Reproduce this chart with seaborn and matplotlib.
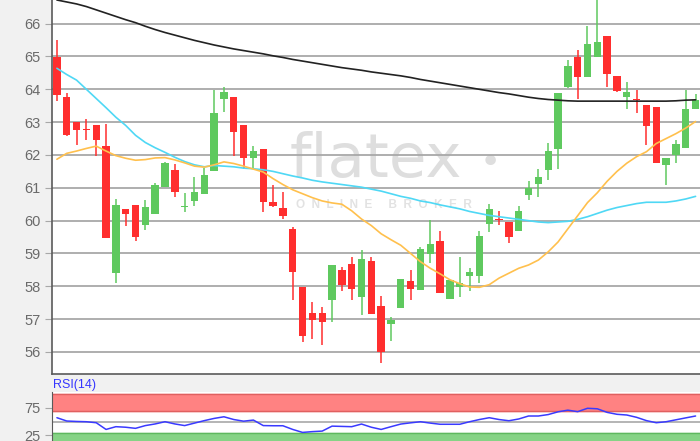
import matplotlib
matplotlib.use("Agg")
import matplotlib.pyplot as plt
import numpy as np
import pandas as pd
import seaborn as sns

# OHLC candles (daily)
opens = [64.97, 63.76, 63.00, 62.80, 62.90, 62.28, 58.42, 60.36, 60.49, 59.88,
         60.20, 61.03, 61.54, 60.42, 60.59, 60.80, 61.50, 63.70, 63.76, 62.90,
         61.91, 62.19, 60.58, 60.38, 59.75, 57.98, 57.19, 57.19, 57.57, 58.50,
         58.69, 57.69, 58.77, 57.39, 56.86, 57.34, 58.15, 57.90, 58.97, 59.37,
         57.62, 57.98, 58.30, 58.30, 59.90, 60.05, 59.95, 59.67, 60.77, 61.13,
         61.54, 62.18, 64.08, 64.97, 64.36, 64.99, 65.62, 64.40, 63.78, 63.70,
         63.53, 63.47, 61.71, 62.01, 62.21, 63.40]
highs = [65.50, 63.88, 63.00, 63.10, 62.90, 62.95, 60.66, 60.36, 60.49, 60.62,
         61.15, 61.78, 61.74, 60.83, 61.33, 61.60, 63.98, 64.08, 63.76, 62.90,
         62.26, 62.19, 61.10, 60.87, 59.80, 57.98, 57.52, 57.37, 58.66, 58.59,
         58.89, 59.12, 58.89, 57.72, 57.07, 58.21, 58.50, 59.20, 60.03, 59.70,
         58.18, 58.89, 58.55, 59.67, 60.51, 60.29, 59.95, 60.46, 61.20, 61.56,
         62.38, 63.88, 64.89, 65.19, 65.92, 66.80, 65.62, 64.40, 64.23, 63.98,
         63.53, 63.47, 61.91, 62.46, 63.98, 63.85]
lows = [63.63, 62.57, 62.30, 62.45, 61.98, 59.48, 58.09, 59.83, 59.37, 59.72,
        60.20, 61.03, 60.72, 60.26, 60.46, 60.80, 61.50, 63.30, 61.98, 61.56,
        61.60, 60.26, 60.41, 60.05, 57.57, 56.30, 56.40, 56.20, 56.90, 57.86,
        57.57, 57.14, 57.17, 55.68, 56.35, 57.34, 57.57, 57.90, 58.70, 57.81,
        57.62, 57.67, 57.85, 58.10, 59.64, 59.86, 59.32, 59.67, 60.62, 60.72,
        61.25, 61.56, 64.03, 63.70, 64.36, 64.99, 64.06, 63.93, 63.39, 63.27,
        62.29, 61.76, 61.10, 61.76, 62.21, 63.40]
closes = [63.83, 62.62, 62.77, 62.77, 62.46, 59.48, 60.49, 60.20, 59.49, 60.41,
          61.09, 61.76, 60.87, 60.45, 60.88, 61.40, 63.29, 63.93, 62.69, 61.91,
          62.13, 60.56, 60.44, 60.14, 58.45, 56.48, 56.98, 56.91, 58.66, 58.05,
          57.93, 58.82, 57.17, 56.00, 56.98, 58.21, 57.93, 59.14, 59.30, 57.81,
          58.18, 58.10, 58.43, 59.54, 60.34, 60.03, 59.50, 60.29, 61.00, 61.32,
          62.11, 63.88, 64.71, 64.36, 65.38, 65.44, 64.46, 63.95, 63.91, 63.66,
          62.89, 61.76, 61.91, 62.34, 63.40, 63.68]

# moving averages
ma_long = [66.72, 66.66, 66.60, 66.52, 66.42, 66.32, 66.22, 66.12, 66.03, 65.92,
           65.82, 65.73, 65.65, 65.57, 65.49, 65.42, 65.35, 65.29, 65.23, 65.18,
           65.13, 65.08, 65.02, 64.97, 64.91, 64.86, 64.81, 64.76, 64.71, 64.66,
           64.62, 64.58, 64.53, 64.49, 64.45, 64.41, 64.36, 64.30, 64.25, 64.20,
           64.15, 64.10, 64.05, 64.00, 63.95, 63.90, 63.86, 63.81, 63.76, 63.72,
           63.69, 63.67, 63.65, 63.64, 63.64, 63.64, 63.64, 63.64, 63.64, 63.64,
           63.64, 63.64, 63.64, 63.65, 63.67, 63.68]
ma_mid = [64.64, 64.45, 64.28, 64.00, 63.72, 63.44, 63.15, 62.90, 62.60, 62.38,
          62.22, 62.08, 61.93, 61.80, 61.70, 61.64, 61.68, 61.66, 61.64, 61.60,
          61.58, 61.55, 61.50, 61.43, 61.36, 61.30, 61.23, 61.18, 61.14, 61.10,
          61.06, 61.02, 60.96, 60.90, 60.82, 60.74, 60.68, 60.60, 60.55, 60.48,
          60.42, 60.36, 60.28, 60.22, 60.16, 60.12, 60.08, 60.04, 60.00, 59.96,
          59.94, 59.96, 59.98, 60.04, 60.12, 60.22, 60.32, 60.40, 60.46, 60.52,
          60.56, 60.56, 60.56, 60.60, 60.66, 60.74]
ma_short = [61.87, 62.05, 62.12, 62.20, 62.27, 62.12, 61.98, 61.90, 61.84, 61.86,
            61.91, 61.92, 61.85, 61.76, 61.66, 61.63, 61.70, 61.79, 61.74, 61.66,
            61.57, 61.48, 61.28, 61.10, 60.94, 60.82, 60.70, 60.60, 60.54, 60.50,
            60.30, 60.05, 59.85, 59.60, 59.42, 59.25, 59.00, 58.75, 58.55, 58.38,
            58.20, 58.08, 57.98, 57.97, 58.05, 58.25, 58.40, 58.55, 58.65, 58.80,
            59.05, 59.35, 59.75, 60.15, 60.55, 60.85, 61.20, 61.50, 61.75, 61.95,
            62.10, 62.35, 62.50, 62.65, 62.82, 63.02]

rsi = [57.3, 51.3, 50.5, 50.0, 48.2, 36.0, 41.0, 40.0, 38.0, 43.0,
       46.0, 50.0, 46.0, 43.0, 47.5, 52.0, 56.0, 59.0, 54.0, 51.0,
       53.0, 43.0, 42.7, 42.7, 36.0, 30.6, 32.0, 33.0, 42.0, 41.5,
       41.0, 45.8, 40.0, 36.0, 41.0, 45.8, 48.0, 50.0, 47.5, 45.4,
       45.4, 45.4, 50.0, 54.0, 57.3, 54.0, 51.8, 55.0, 60.4, 60.4,
       63.0, 68.0, 71.0, 68.3, 74.4, 73.5, 67.0, 63.5, 62.2, 58.0,
       52.0, 48.2, 50.0, 53.5, 57.0, 60.4]

price_ticks = [56, 57, 58, 59, 60, 61, 62, 63, 64, 65, 66]
rsi_ticks = [25, 75]

df = pd.DataFrame({"day": np.arange(len(opens)), "open": opens, "high": highs,
                   "low": lows, "close": closes, "ma_long": ma_long,
                   "ma_mid": ma_mid, "ma_short": ma_short, "rsi": rsi})

sns.set_style("white")
plt.rcParams["font.family"] = ["Liberation Sans", "DejaVu Sans"]

GREEN = "#5fc95f"
RED = "#ff2e2e"
GRID = "#a8a8a8"
TXT = "#6a6a6a"

fig = plt.figure(figsize=(7, 4.41), dpi=100, facecolor="#f1f1f1")
ax = fig.add_axes([52 / 700, 1 - 374 / 441, 648 / 700, 374 / 441])
ax2 = fig.add_axes([52 / 700, 0, 648 / 700, 49 / 441])

# watermark
ax.text(0.50, 0.57, "flatex", transform=ax.transAxes, fontsize=44,
        color="#dedede", ha="center", va="center", family="DejaVu Sans",
        zorder=0)
ax.text(0.676, 0.565, "\u2022", transform=ax.transAxes, fontsize=26,
        color="#dedede", ha="center", va="center", family="DejaVu Sans",
        zorder=0)
ax.text(0.512, 0.452, "O  N  L  I  N  E     B  R  O  K  E  R",
        transform=ax.transAxes, fontsize=8.5, color="#e2e2e2",
        fontweight="bold", ha="center", va="center", zorder=0)

# candles
up = df["close"] >= df["open"]
colors = np.where(up, GREEN, RED)
body_lo = np.minimum(df["open"], df["close"])
body_h = np.maximum(np.abs(df["close"] - df["open"]), 0.035)
ax.vlines(df["day"], df["low"], df["high"], colors=colors, lw=1.1, zorder=3)
ax.bar(df["day"], body_h, bottom=body_lo, width=0.75, color=colors,
       linewidth=0, zorder=4)

sns.lineplot(data=df, x="day", y="ma_long", ax=ax, color="#222222", lw=1.2,
             zorder=5)
sns.lineplot(data=df, x="day", y="ma_mid", ax=ax, color="#4fd8f5", lw=1.2,
             zorder=5)
sns.lineplot(data=df, x="day", y="ma_short", ax=ax, color="#ffc04d", lw=1.2,
             zorder=5)

ax.set_xlim(-0.5, 65.45)
ax.set_ylim(55.33, 66.72)
ax.set_yticks(price_ticks)
ax.set_xticks([])
ax.set_xlabel("")
ax.set_ylabel("")
ax.yaxis.grid(True, color=GRID, lw=1.3)
ax.set_axisbelow(True)
ax.tick_params(axis="y", direction="out", length=5, color=GRID,
               labelcolor=TXT, labelsize=10.5, pad=3, left=True)
for s in ["top", "right"]:
    ax.spines[s].set_visible(False)
for s in ["left", "bottom"]:
    ax.spines[s].set_color("#5a5a5a")
    ax.spines[s].set_linewidth(1.2)

# RSI panel
ax2.axhspan(70, 100, color="#ff8282", zorder=1)
ax2.axhline(70, color="#e06060", lw=1, zorder=2)
ax2.axhline(100, color="#e06060", lw=1, zorder=2)
ax2.axhspan(0, 30, color="#86d386", zorder=1)
ax2.axhline(30, color="#5fb85f", lw=1, zorder=2)
ax2.axhline(50, color=GRID, lw=1.2, zorder=2)
sns.lineplot(data=df, x="day", y="rsi", ax=ax2, color="#3a3aff", lw=1.1,
             zorder=5)
ax2.set_xlim(-0.5, 65.45)
ax2.set_ylim(15, 104)
ax2.set_yticks(rsi_ticks)
ax2.set_xticks([])
ax2.set_xlabel("")
ax2.set_ylabel("")
ax2.tick_params(axis="y", direction="out", length=5, color=GRID,
                labelcolor=TXT, labelsize=10.5, pad=3, left=True)
for s in ["top", "right", "bottom"]:
    ax2.spines[s].set_visible(False)
ax2.spines["left"].set_color("#5a5a5a")
fig.text(53 / 700, 1 - 385 / 441, "RSI(14)", color="#3535ff", fontsize=9,
         va="center", ha="left")

fig.savefig("out.png", dpi=100, facecolor=fig.get_facecolor())
